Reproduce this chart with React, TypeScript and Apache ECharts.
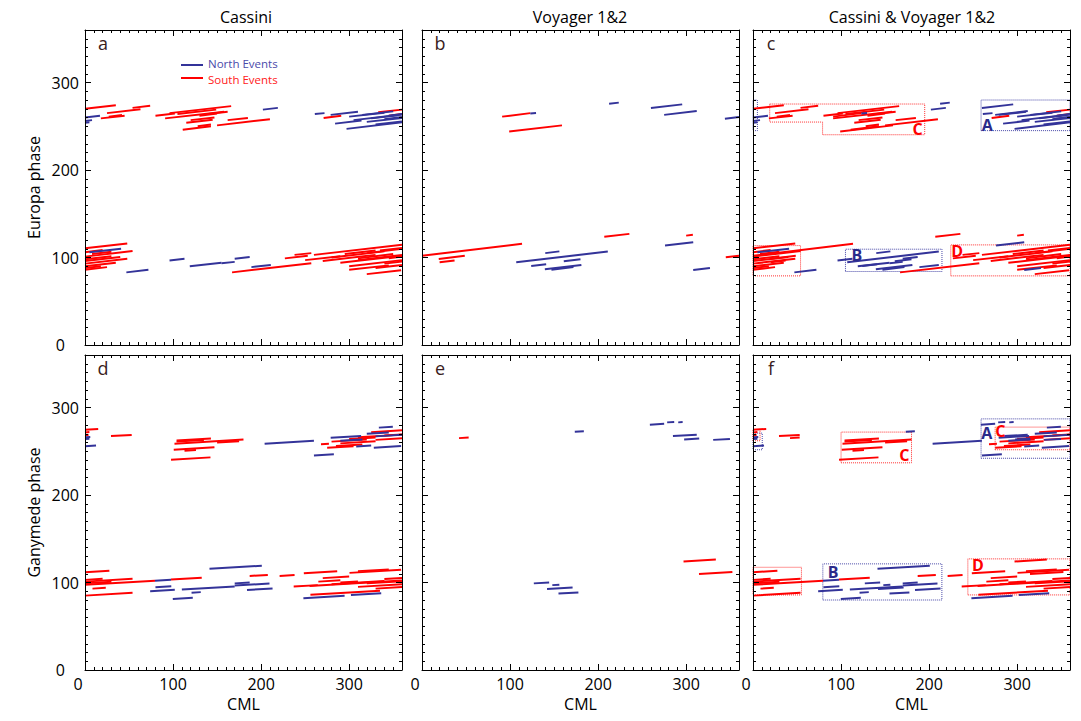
import React, { useEffect, useRef } from 'react';
import * as echarts from 'echarts';

type Seg = [number, number, number, number];
type Pt = [number, number];

// ---------- DATA (x1 CML, y1 phase, x2 CML, y2 phase) ----------
const cassiniEuropaSouth: Seg[] = [
  [0, 270, 35, 274], [54, 271, 74, 273.5], [25, 265, 63, 269.5], [18, 259, 45, 262],
  [27, 261, 42, 263], [80, 262, 102, 264.5], [96, 265, 166, 273], [91, 259, 158, 266.5],
  [105, 264, 149, 269], [115, 254, 145, 257.5], [120, 257, 147, 260], [128, 250, 143, 252],
  [111, 246, 143, 250], [150, 251, 210, 258], [162, 257, 185, 259.5], [130, 262, 150, 264.5],
  [140, 264, 162, 266.5], [271, 259.5, 291, 262], [333, 266, 360, 269], [345, 262, 360, 264],
  [0, 110.5, 48, 116], [0, 106, 20, 108.5], [0, 101, 54, 107.5], [0, 98, 30, 101.5],
  [0, 96, 40, 100.5], [0, 93, 48, 98.5], [0, 90, 35, 94], [0, 88, 18, 90], [0, 86, 25, 89],
  [8, 104, 30, 106.5], [167, 83, 257, 93.5], [227, 99, 253, 102], [238, 103, 257, 105],
  [260, 103, 360, 114.5], [280, 100, 340, 107], [270, 96, 330, 103], [290, 94, 360, 102],
  [300, 90, 360, 97], [310, 97, 360, 103], [320, 105, 360, 110], [320, 81, 359, 85.5],
  [300, 86, 345, 91], [330, 88, 360, 91.5], [340, 93, 360, 95.5], [250, 97, 290, 101.5],
  [295, 104, 330, 108], [310, 99, 350, 104], [345, 99, 360, 101], [335, 108, 360, 111],
];
const cassiniEuropaNorth: Seg[] = [
  [0, 260, 17, 262], [0, 256, 8, 257], [0, 254, 5, 254.6], [202, 269, 219, 271],
  [261, 264, 272, 265], [284, 253, 314, 256.5], [297, 247, 360, 254.5], [305, 257, 360, 263.5],
  [300, 261, 340, 265.5], [320, 255, 360, 259.5], [330, 252, 360, 255.5], [315, 263, 350, 267],
  [340, 258, 360, 260.5], [325, 259, 355, 262.5], [345, 262, 360, 264], [279, 263, 310, 266.5],
  [5, 106, 41, 110], [47, 83, 72, 86], [96, 96.5, 113, 98.5], [119, 90, 155, 94],
  [155, 93.5, 170, 95], [170, 98.5, 187, 100.5], [189, 89, 211, 91.5],
];
const voyagerEuropaSouth: Seg[] = [
  [91, 261, 123, 265], [99, 244, 159, 251], [0, 102, 113.6, 115.6], [19, 98.4, 48.6, 102],
  [20, 94.5, 37, 96.5], [207, 123.6, 235.5, 127], [300, 125, 307.6, 126], [345, 100.3, 360, 102],
];
const voyagerEuropaNorth: Seg[] = [
  [123, 264.5, 129.5, 265.2], [212.5, 275.7, 223.5, 277], [260, 270.8, 295.5, 275],
  [275, 263, 312, 267.3], [344, 258.6, 360, 260.5], [107, 94.6, 211, 106.8],
  [140, 105, 156, 107], [161, 95.8, 180, 98], [124, 90.4, 141, 92.4], [139.5, 86.6, 181, 91.4],
  [147, 86, 172, 89], [276, 113.6, 308, 117.4], [308, 85.8, 327, 88],
];
const cassiniGanymedeSouth: Seg[] = [
  [0, 274.6, 15, 275.5], [0, 271.5, 5, 272], [0, 269, 4, 269.3], [29.5, 267.3, 53, 268.7],
  [104, 262.4, 143, 264.7], [104, 261, 135, 262.8], [101.6, 258.6, 180, 263.3], [150, 260, 175, 261.5],
  [100.8, 251.7, 147, 254.5], [113, 250.5, 126, 251.3], [97.7, 240.3, 142.5, 243], [268, 258, 277, 258.5],
  [280, 261, 320, 263.4], [290, 259, 330, 261.4], [285, 256, 315, 257.8], [275, 254, 305, 255.8],
  [325, 271.8, 360, 273.9], [310, 266, 360, 269], [330, 263, 360, 264.8], [300, 264, 330, 265.8],
  [340, 268, 360, 269.2],
  [0, 111.7, 27.7, 113.4], [0, 101, 54, 104.2], [0, 97.3, 79.5, 102], [0, 99, 30, 100.8],
  [0, 103, 20, 104.2], [8.5, 93, 23.6, 93.9], [0, 85, 54, 88.2], [97.7, 103.3, 132.6, 105.4],
  [187, 107.5, 207.6, 108.7], [221, 107.5, 238, 108.5], [248.5, 110.5, 286.4, 112.8],
  [237, 95.3, 264.4, 97], [265, 101, 290, 102.5], [270, 105, 300, 106.8], [290, 100, 310, 101.2],
  [300.4, 111, 359, 114.5], [310, 113, 345, 115], [255, 96, 360, 102.3], [280, 98, 340, 101.6],
  [310, 95, 360, 98], [320, 99, 360, 101.4], [330, 93, 360, 94.8], [256, 86, 335, 90.7],
  [340, 104, 360, 105.2],
];
const cassiniGanymedeNorth: Seg[] = [
  [0, 255.8, 12.5, 256.5], [0, 264, 5, 264.3], [0, 266, 6, 266.4], [204, 258.6, 260, 262],
  [260, 245.2, 282.6, 246.6], [279, 265.4, 313.6, 267.5], [308, 255.5, 325, 256.5],
  [328, 254, 359, 255.9], [333.7, 277, 349.6, 278], [320, 270, 345, 271.5], [330, 267, 360, 268.8],
  [290, 262, 315, 263.5],
  [141.4, 115.6, 200.8, 119.2], [74, 90, 102, 91.7], [80, 94.5, 98, 95.6], [79.5, 102, 97.7, 103.1],
  [110, 91.9, 170, 95.5], [121, 88.4, 131.5, 89], [170, 99, 187, 100], [170, 96.5, 209.5, 98.9],
  [184, 91.5, 213, 93.2], [99.7, 81.2, 122.4, 82.6], [248, 82, 294.8, 84.8], [302, 85.8, 336.4, 87.8],
];
const voyagerGanymedeSouth: Seg[] = [
  [42, 265, 53, 265.7], [297, 124, 333.7, 126.2], [314.6, 109.8, 352.5, 112.1],
];
const voyagerGanymedeNorth: Seg[] = [
  [173.5, 272.3, 183.8, 272.9], [258.8, 280.3, 275, 281.3], [278.4, 283, 286.4, 283.5],
  [291, 283, 296, 283.3], [285, 267.3, 312, 268.9], [297.7, 263.5, 314.8, 264.5],
  [330.7, 263, 349.7, 264.1], [127, 99, 144.4, 100], [148, 97, 156, 97.5],
  [142, 92.6, 171, 94.3], [155, 87.3, 177.6, 88.7],
];

// boxes (dotted outlines) as point lists
const europaNorthBoxes: Pt[][] = [
  [[0, 245], [5, 245], [5, 280], [0, 280], [0, 245]],
  [[259, 245], [360, 245], [360, 280], [259, 280], [259, 245]],
  [[105, 84], [214.6, 84], [214.6, 109.5], [105, 109.5], [105, 84]],
];
const europaSouthBoxes: Pt[][] = [
  [[19, 275.4], [195, 275.4], [195, 240.3], [79, 240.3], [79, 254.8], [19, 254.8], [19, 275.4]],
  [[0, 79], [54, 79], [54, 113.6], [0, 113.6], [0, 79]],
  [[224.6, 79], [360, 79], [360, 114.4], [224.6, 114.4], [224.6, 79]],
];
const ganymedeNorthBoxes: Pt[][] = [
  [[0, 251.7], [10.5, 251.7], [10.5, 270.7], [0, 270.7], [0, 251.7]],
  [[259, 242], [360, 242], [360, 287], [259, 287], [259, 242]],
  [[79.3, 80], [214.5, 80], [214.5, 121.3], [79.3, 121.3], [79.3, 80]],
];
const ganymedeSouthBoxes: Pt[][] = [
  [[0, 262], [8, 262], [8, 275], [0, 275], [0, 262]],
  [[100, 236.8], [180, 236.8], [180, 271.9], [100, 271.9], [100, 236.8]],
  [[275, 251.7], [360, 251.7], [360, 277.6], [275, 277.6], [275, 251.7]],
  [[0, 85.8], [55, 85.8], [55, 117.4], [0, 117.4], [0, 85.8]],
  [[244, 85.8], [360, 85.8], [360, 127], [244, 127], [244, 85.8]],
];
type BoxLabel = { t: string; x: number; y: number; south: boolean };
const europaBoxLabels: BoxLabel[] = [
  { t: 'C', x: 187, y: 247, south: true }, { t: 'A', x: 266, y: 252, south: false },
  { t: 'B', x: 118, y: 103, south: false }, { t: 'D', x: 232, y: 107.5, south: true },
];
const ganymedeBoxLabels: BoxLabel[] = [
  { t: 'C', x: 172, y: 246, south: true }, { t: 'A', x: 265.5, y: 270.5, south: false },
  { t: 'C', x: 281, y: 273, south: true }, { t: 'B', x: 91, y: 111.5, south: false },
  { t: 'D', x: 255.5, y: 119.5, south: true },
];

const columnTitles = ['Cassini', 'Voyager 1&2', 'Cassini & Voyager 1&2'];
const panelLetters = ['a', 'b', 'c', 'd', 'e', 'f'];
const rowNames = ['Europa phase', 'Ganymede phase'];
const xAxisName = 'CML';
const legendLabels = ['North Events', 'South Events'];

// ---------- STYLE / LAYOUT ----------
const NORTH = '#333399';
const SOUTH = '#ff0000';
const FONT = '"Open Sans", "Noto Sans", sans-serif';
const GL = [85, 422, 753];
const GT = [30, 355];
const GW = 317;
const GH = 315;

const panels = [
  { south: [cassiniEuropaSouth], north: [cassiniEuropaNorth], nb: [] as Pt[][], sb: [] as Pt[][], lab: [] as BoxLabel[] },
  { south: [voyagerEuropaSouth], north: [voyagerEuropaNorth], nb: [], sb: [], lab: [] },
  { south: [cassiniEuropaSouth, voyagerEuropaSouth], north: [cassiniEuropaNorth, voyagerEuropaNorth], nb: europaNorthBoxes, sb: europaSouthBoxes, lab: europaBoxLabels },
  { south: [cassiniGanymedeSouth], north: [cassiniGanymedeNorth], nb: [], sb: [], lab: [] },
  { south: [voyagerGanymedeSouth], north: [voyagerGanymedeNorth], nb: [], sb: [], lab: [] },
  { south: [cassiniGanymedeSouth, voyagerGanymedeSouth], north: [cassiniGanymedeNorth, voyagerGanymedeNorth], nb: ganymedeNorthBoxes, sb: ganymedeSouthBoxes, lab: ganymedeBoxLabels },
];

function axis(gi: number, pos: string, major: boolean, showLabel: boolean, name: string, nameGap: number) {
  return {
    type: 'value', gridIndex: gi, position: pos, min: 0, max: 360,
    interval: major ? 100 : 10,
    axisLine: { show: major, onZero: false, lineStyle: { color: '#000', width: 1 } },
    axisTick: { show: true, inside: true, length: major ? 6 : 3, lineStyle: { color: '#000', width: 1 } },
    axisLabel: {
      show: showLabel, showMaxLabel: false, color: '#000', fontSize: 16, fontFamily: FONT, margin: 6,
      formatter: (v: number) => (v === 0 ? '{z|0}' : String(v)),
      rich: { z: { padding: [0, 14, 0, 0], fontSize: 16, fontFamily: FONT, color: '#000' } },
    },
    splitLine: { show: false },
    name, nameLocation: 'middle', nameGap,
    nameTextStyle: { color: '#000', fontSize: 16, fontFamily: FONT },
    z: 5,
  };
}

function segData(list: Seg[][]) {
  const out: any[] = [];
  list.forEach((arr) => arr.forEach((s) => out.push({ coords: [[s[0], s[1]], [s[2], s[3]]] })));
  return out;
}

function buildOption() {
  const grid: any[] = [];
  const xAxis: any[] = [];
  const yAxis: any[] = [];
  const series: any[] = [];
  const graphic: any[] = [];
  for (let gi = 0; gi < 6; gi++) {
    const row = gi < 3 ? 0 : 1;
    const col = gi % 3;
    grid.push({ left: GL[col], top: GT[row], width: GW, height: GH });
    xAxis.push(axis(gi, 'bottom', true, row === 1, row === 1 ? xAxisName : '', 26));
    xAxis.push(axis(gi, 'bottom', false, false, '', 0));
    xAxis.push(axis(gi, 'top', true, false, '', 0));
    xAxis.push(axis(gi, 'top', false, false, '', 0));
    yAxis.push(axis(gi, 'left', true, col === 0, col === 0 ? rowNames[row] : '', 43));
    yAxis.push(axis(gi, 'left', false, false, '', 0));
    yAxis.push(axis(gi, 'right', true, false, '', 0));
    yAxis.push(axis(gi, 'right', false, false, '', 0));
    const p = panels[gi];
    const base = { type: 'lines', coordinateSystem: 'cartesian2d', xAxisIndex: gi * 4, yAxisIndex: gi * 4, silent: true };
    if (p.nb.length) {
      series.push({ ...base, polyline: true, data: p.nb.map((c) => ({ coords: c })), lineStyle: { color: '#4848a8', width: 1, type: 'dotted', opacity: 1 } });
    }
    if (p.sb.length) {
      series.push({ ...base, polyline: true, data: p.sb.map((c) => ({ coords: c })), lineStyle: { color: '#ff3030', width: 1, type: 'dotted', opacity: 1 } });
    }
    series.push({ ...base, data: segData(p.south), lineStyle: { color: SOUTH, width: 2, opacity: 1 } });
    series.push({ ...base, data: segData(p.north), lineStyle: { color: NORTH, width: 2, opacity: 1 } });
    if (p.lab.length) {
      series.push({
        type: 'scatter', xAxisIndex: gi * 4, yAxisIndex: gi * 4, silent: true, symbolSize: 1,
        itemStyle: { color: 'rgba(0,0,0,0)' },
        data: p.lab.map((l) => ({ value: [l.x, l.y], name: l.t, label: { color: l.south ? SOUTH : '#2a2a8a' } })),
        label: { show: true, position: 'inside', formatter: '{b}', fontSize: 16, fontWeight: 'bold', fontFamily: FONT, opacity: 1 },
        z: 6,
      });
    }
    graphic.push({
      type: 'text', x: GL[col] + 18, y: GT[row] + 13,
      style: { text: panelLetters[gi], fill: '#3a1c1c', font: `18px ${FONT}`, align: 'center', verticalAlign: 'middle', textAlign: 'center', textVerticalAlign: 'middle' },
    });
  }
  const titleX = [246, 580, 912];
  columnTitles.forEach((t, i) => {
    graphic.push({
      type: 'text', x: titleX[i], y: 17,
      style: { text: t, fill: '#000', font: `16px ${FONT}`, align: 'center', verticalAlign: 'middle', textAlign: 'center', textVerticalAlign: 'middle' },
    });
  });
  // legend
  graphic.push({ type: 'line', shape: { x1: 181, y1: 65, x2: 203, y2: 65 }, style: { stroke: NORTH, lineWidth: 2 } });
  graphic.push({ type: 'line', shape: { x1: 181, y1: 78, x2: 203, y2: 78 }, style: { stroke: SOUTH, lineWidth: 2 } });
  graphic.push({ type: 'text', x: 208, y: 63, style: { text: legendLabels[0], fill: '#4a4aaa', font: `11.5px ${FONT}`, verticalAlign: 'middle', textVerticalAlign: 'middle' } });
  graphic.push({ type: 'text', x: 208, y: 79, style: { text: legendLabels[1], fill: '#ff2020', font: `11.5px ${FONT}`, verticalAlign: 'middle', textVerticalAlign: 'middle' } });

  return {
    animation: false,
    backgroundColor: '#fff',
    textStyle: { fontFamily: FONT },
    grid, xAxis, yAxis, series, graphic,
  };
}

export default function App() {
  const ref = useRef<HTMLDivElement>(null);
  useEffect(() => {
    if (!ref.current) return;
    const chart = echarts.init(ref.current, null, { renderer: 'svg' });
    chart.setOption(buildOption() as any);
    return () => chart.dispose();
  }, []);
  return <div ref={ref} style={{ position: 'fixed', left: 0, top: 0, width: 1081, height: 721, background: '#fff' }} />;
}
